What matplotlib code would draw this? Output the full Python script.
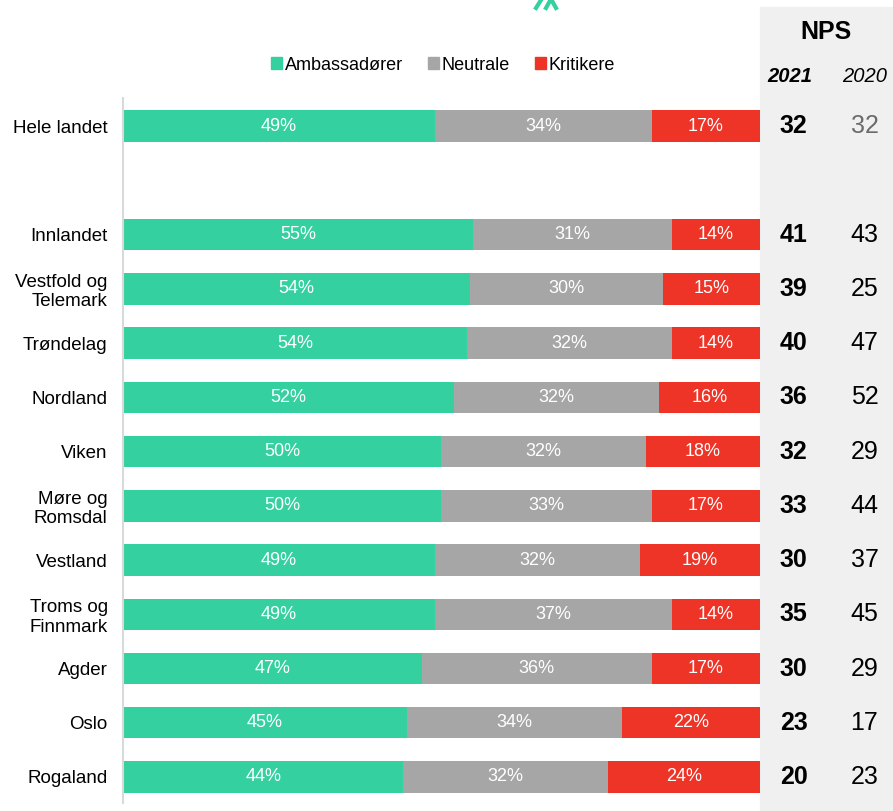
import matplotlib.pyplot as plt
import numpy as np
from matplotlib.patches import Rectangle, Patch
from matplotlib.lines import Line2D

plt.rcParams['font.family'] = ['Liberation Sans', 'DejaVu Sans']

regioner = ["Hele landet", "Innlandet", "Vestfold og\nTelemark", "Trøndelag", "Nordland",
            "Viken", "Møre og\nRomsdal", "Vestland", "Troms og\nFinnmark", "Agder",
            "Oslo", "Rogaland"]
# andeler lest av figuren (bredde på segmentene)
ambassadorer = [49.0, 54.9, 54.4, 54.0, 52.0, 49.9, 49.9, 49.0, 49.0, 46.9, 44.6, 44.0]
neutrale = [34.0, 31.3, 30.4, 32.2, 32.1, 32.2, 33.1, 32.2, 37.2, 36.1, 33.8, 32.1]
kritikere = [17.0, 13.8, 15.2, 13.8, 15.9, 17.9, 17.0, 18.8, 13.8, 17.0, 21.6, 23.9]
nps_2021 = [32, 41, 39, 40, 36, 32, 33, 30, 35, 30, 23, 20]
nps_2020 = [32, 43, 25, 47, 52, 29, 44, 37, 45, 29, 17, 23]

gronn = "#35d09f"
gra = "#a6a6a6"
rod = "#ee3327"

W, H = 893, 811
fig = plt.figure(figsize=(W / 100, H / 100), dpi=100)

# grått NPS-felt
fig.patches.append(Rectangle((760 / W, 0), (W - 760) / W, (H - 7) / H,
                             transform=fig.transFigure, color="#f0f0f0", zorder=-1))

# logo-rest øverst
for xs, ys in [([536, 541], [8, 0]), ([546, 551, 556], [8, -1, 8])]:
    fig.lines.append(Line2D([x / W for x in xs], [1 - y / H for y in ys],
                            transform=fig.transFigure, color=gronn, lw=3))

ax = fig.add_axes([123 / W, 8 / H, (W - 123) / W, 705 / H])
ax.set_facecolor("none")

pos = np.array([0] + list(range(2, 13)))
h = 0.58
a = np.array(ambassadorer)
n = np.array(neutrale)
k = np.array(kritikere)
ax.barh(pos, a, height=h, color=gronn, label="Ambassadører")
ax.barh(pos, n, left=a, height=h, color=gra, label="Neutrale")
ax.barh(pos, k, left=a + n, height=h, color=rod, label="Kritikere")

for i, p in enumerate(pos):
    ax.text(a[i] / 2, p, f"{round(a[i])}%", color="white", ha="center", va="center", fontsize=13)
    ax.text(a[i] + n[i] / 2, p, f"{round(n[i])}%", color="white", ha="center", va="center", fontsize=13)
    ax.text(a[i] + n[i] + k[i] / 2, p, f"{round(k[i])}%", color="white", ha="center", va="center", fontsize=13)
    ax.text(105.3, p, str(nps_2021[i]), ha="center", va="center", fontsize=18, fontweight="bold")
    ax.text(116.4, p, str(nps_2020[i]), ha="center", va="center", fontsize=18,
            color="#6b6b6b" if i == 0 else "black")

ax.set_xlim(0, 100 * (W - 123) / 637)
ax.set_ylim(12.48, -0.52)
ax.set_yticks(pos)
ax.set_yticklabels(regioner, fontsize=13.5)
ax.tick_params(axis="y", length=0, pad=11)
ax.set_xticks([])
for s in ["top", "right", "bottom"]:
    ax.spines[s].set_visible(False)
ax.spines["left"].set_color("#d9d9d9")
ax.spines["left"].set_linewidth(1.5)

fig.text(826 / W, 1 - 32 / H, "NPS", ha="center", va="center", fontsize=18, fontweight="bold")
fig.text(790 / W, 1 - 77 / H, "2021", ha="center", va="center", fontsize=14.5,
         fontweight="bold", fontstyle="italic")
fig.text(865 / W, 1 - 77 / H, "2020", ha="center", va="center", fontsize=14.5, fontstyle="italic")

handles = [Patch(color=gronn), Patch(color=gra), Patch(color=rod)]
fig.legend(handles, ["Ambassadører", "Neutrale", "Kritikere"], loc="center",
           bbox_to_anchor=(443 / W, 1 - 65 / H), ncol=3, frameon=False, fontsize=13,
           handlelength=0.6, handleheight=0.6, handletextpad=0.15, columnspacing=1.4)

fig.savefig("out.png", dpi=100)
